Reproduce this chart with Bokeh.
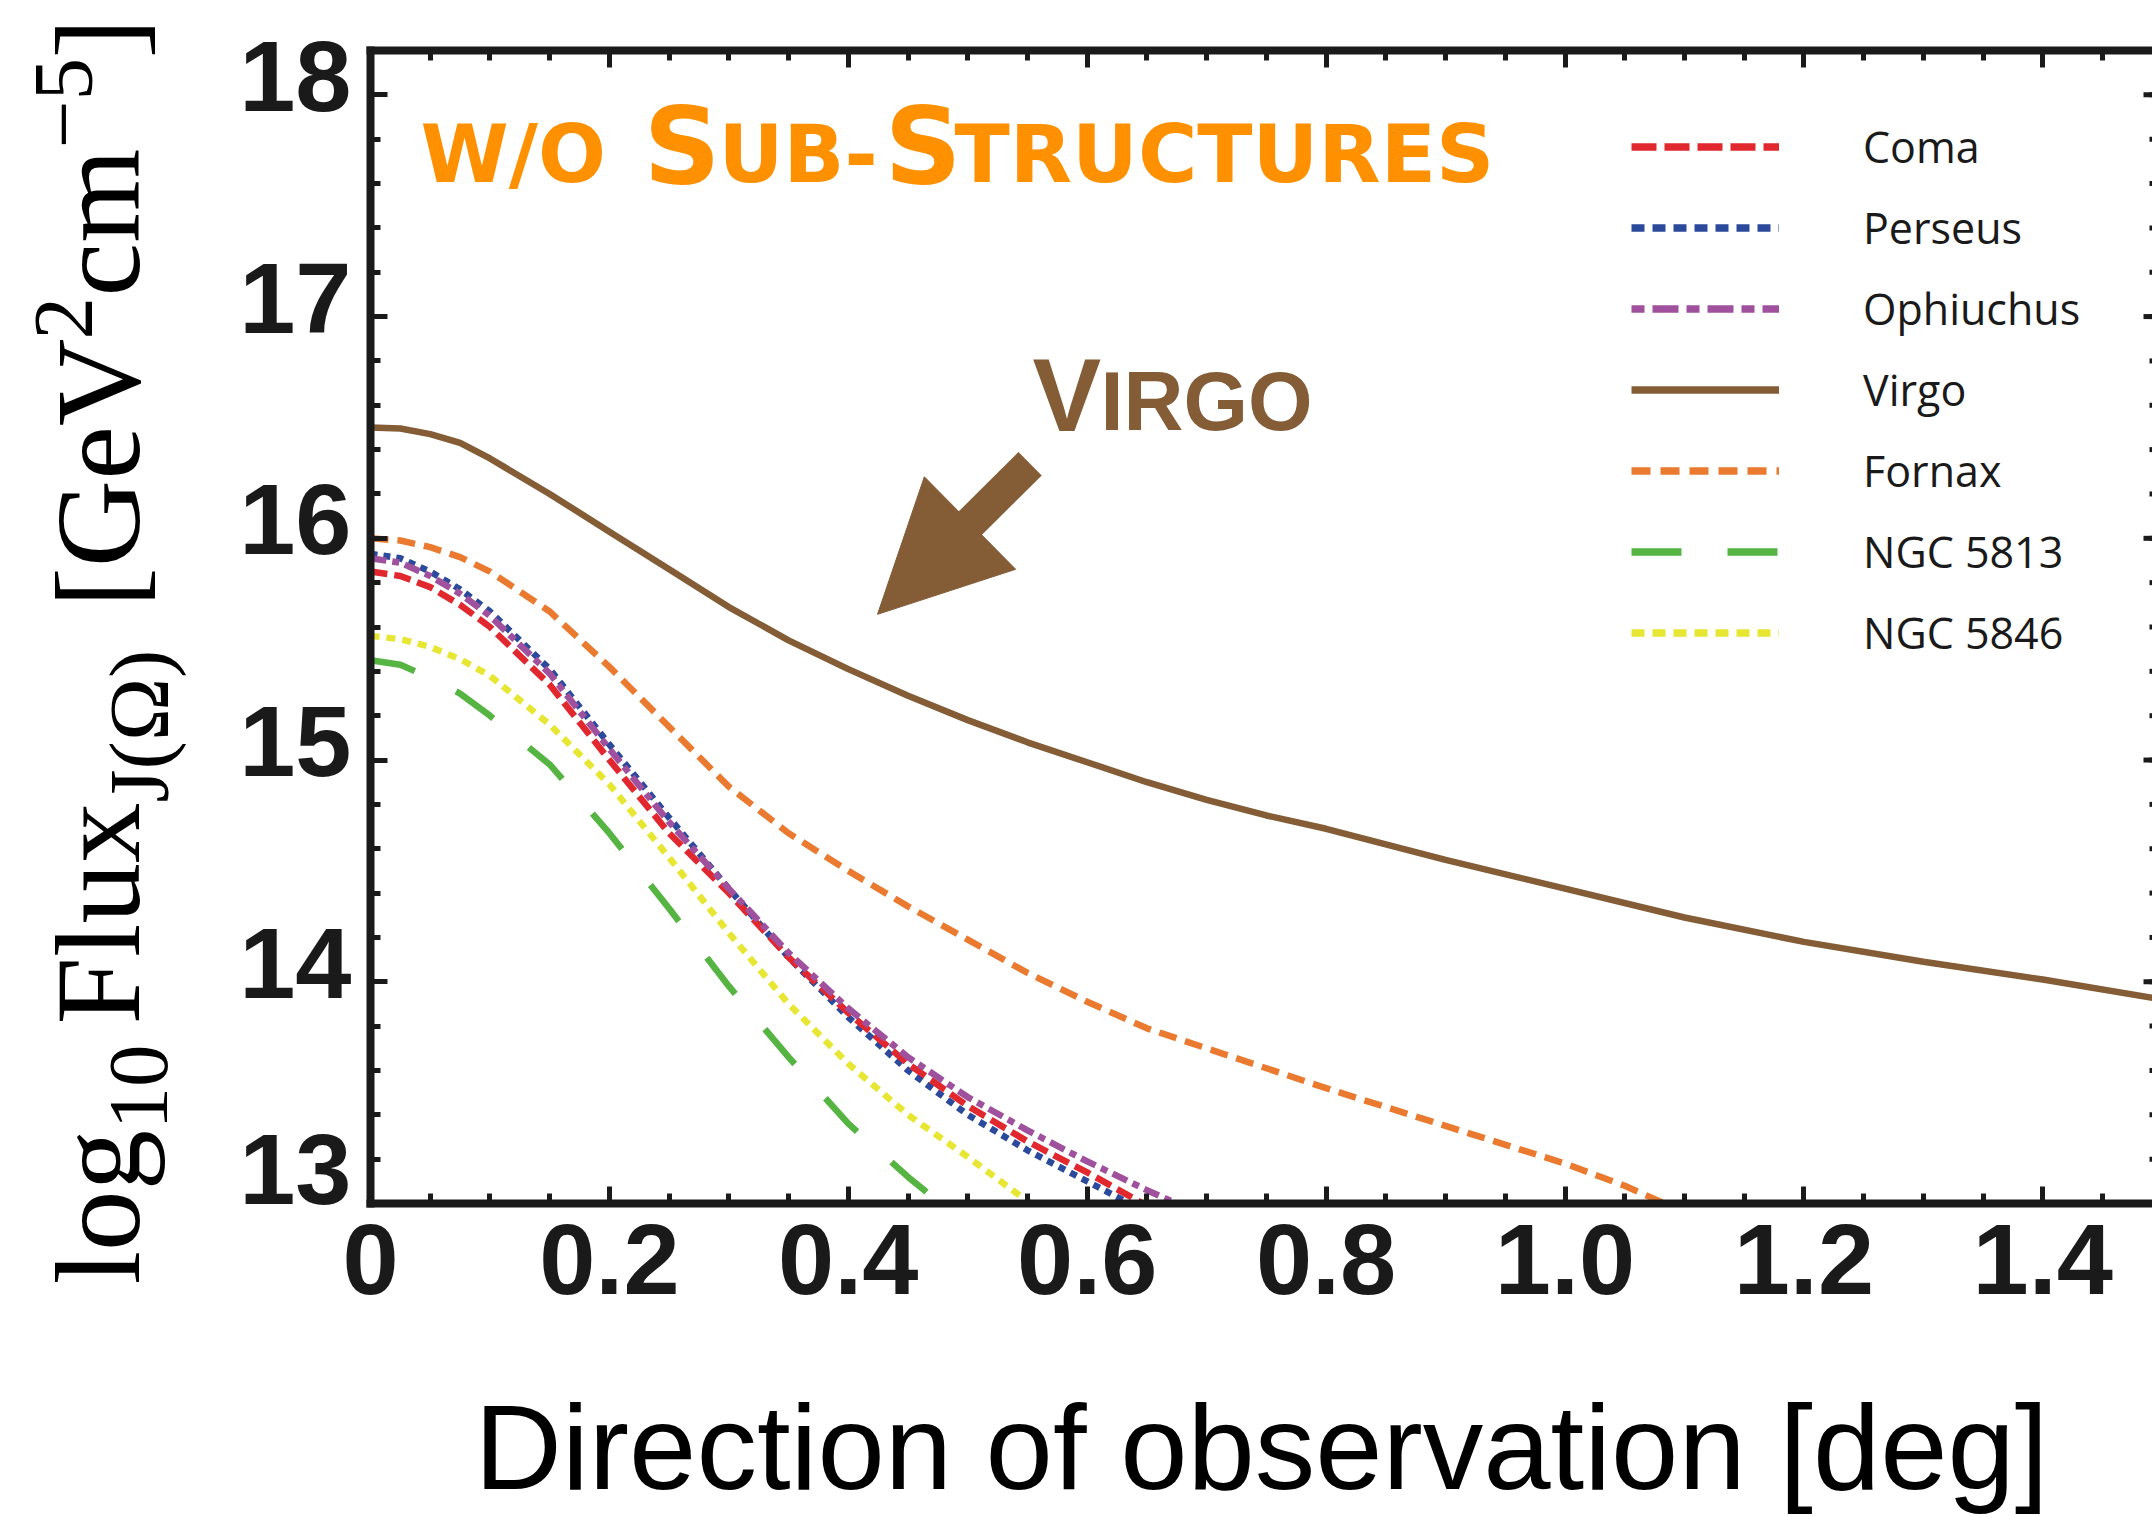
from math import pi
from bokeh.plotting import figure
from bokeh.layouts import row
from bokeh.models import (Range1d, LinearAxis, FixedTicker, Label, Arrow,
                          NormalHead, Legend, LegendItem)
from bokeh.embed import file_html
from bokeh.resources import INLINE

# ---------------- data ----------------
x_bundle = [0.00, 0.025, 0.05, 0.075, 0.10, 0.15, 0.20, 0.25, 0.30, 0.35, 0.40,
            0.45, 0.50, 0.55, 0.60, 0.65, 0.70]
coma = [15.85, 15.83, 15.78, 15.70, 15.60, 15.34, 15.00, 14.67, 14.40, 14.11,
        13.86, 13.63, 13.44, 13.28, 13.14, 12.99, 12.85]
perseus = [15.93, 15.91, 15.85, 15.77, 15.67, 15.41, 15.07, 14.74, 14.42, 14.11,
           13.84, 13.60, 13.40, 13.24, 13.10, 12.96, 12.82]
ophiuchus = [15.91, 15.89, 15.83, 15.75, 15.65, 15.39, 15.05, 14.72, 14.42, 14.13,
             13.88, 13.66, 13.48, 13.33, 13.19, 13.06, 12.94]

x_virgo = [0.00, 0.025, 0.05, 0.075, 0.10, 0.15, 0.20, 0.25, 0.30, 0.35, 0.40,
           0.45, 0.50, 0.55, 0.60, 0.65, 0.70, 0.75, 0.80, 0.90, 1.00, 1.10,
           1.20, 1.30, 1.40, 1.50]
virgo = [16.50, 16.495, 16.47, 16.43, 16.36, 16.20, 16.03, 15.86, 15.69, 15.54,
         15.41, 15.29, 15.18, 15.08, 14.99, 14.90, 14.82, 14.75, 14.69, 14.55,
         14.42, 14.29, 14.18, 14.09, 14.01, 13.92]

x_fornax = [0.00, 0.025, 0.05, 0.075, 0.10, 0.15, 0.20, 0.25, 0.30, 0.35, 0.40,
            0.45, 0.50, 0.55, 0.60, 0.65, 0.70, 0.75, 0.80, 0.90, 1.00, 1.05,
            1.10]
fornax = [16.00, 15.99, 15.96, 15.915, 15.85, 15.67, 15.42, 15.15, 14.88, 14.67,
          14.50, 14.34, 14.19, 14.04, 13.91, 13.79, 13.70, 13.61, 13.52, 13.35,
          13.18, 13.08, 12.96]

x_5813 = [0.00, 0.025, 0.05, 0.075, 0.10, 0.15, 0.20, 0.25, 0.30, 0.35, 0.40,
          0.45, 0.50]
ngc5813 = [15.45, 15.43, 15.37, 15.30, 15.20, 14.98, 14.67, 14.33, 13.98, 13.66,
           13.36, 13.12, 12.90]

x_5846 = [0.00, 0.025, 0.05, 0.075, 0.10, 0.15, 0.20, 0.25, 0.30, 0.35, 0.40,
          0.45, 0.50, 0.55, 0.60]
ngc5846 = [15.56, 15.545, 15.51, 15.455, 15.38, 15.16, 14.89, 14.56, 14.22, 13.90,
           13.63, 13.40, 13.21, 13.01, 12.84]

x_ticks = [0, 0.2, 0.4, 0.6, 0.8, 1.0, 1.2, 1.4]
x_tick_labels = ["0", "0.2", "0.4", "0.6", "0.8", "1.0", "1.2", "1.4"]
y_ticks = [13, 14, 15, 16, 17, 18]
y_tick_labels = ["13", "14", "15", "16", "17", "18"]

names = ["Coma", "Perseus", "Ophiuchus", "Virgo", "Fornax", "NGC 5813", "NGC 5846"]

# ---------------- styles / layout ----------------
INK = "#1a1a1a"
RED = "#E0282E"
BLUE = "#2B4A9B"
PURPLE = "#A0519E"
BROWN = "#845C36"
ORANGE = "#E97A2F"
GREEN = "#55B442"
YELLOW = "#E6E633"
TITLE_ORANGE = "#FF9000"

TOTAL_W, TOTAL_H = 2152, 1517
LAB_W = 208                 # width of the strip that carries the y-axis title
FRAME_L, FRAME_T, FRAME_B = 370, 50, 1208
FRAME_W = TOTAL_W - FRAME_L
FRAME_H = FRAME_B - FRAME_T
PX_PER_X = 1194.5
X_END = FRAME_W / PX_PER_X
Y_START, Y_END = 13.0, 18.2
PX_PER_Y = FRAME_H / (Y_END - Y_START)


def dx(X):
    return (X - FRAME_L) / PX_PER_X


def dy(Y):
    return Y_END - (Y - FRAME_T) / PX_PER_Y


MID = 0.33   # box-centre above the baseline, in em

p = figure(width=TOTAL_W - LAB_W, height=TOTAL_H, x_range=Range1d(0, X_END),
           y_range=Range1d(Y_START, Y_END), output_backend="svg",
           toolbar_location=None, min_border_left=FRAME_L - LAB_W,
           min_border_right=0, min_border_top=FRAME_T,
           min_border_bottom=TOTAL_H - FRAME_B)
p.frame_align = False
p.outline_line_color = None
p.grid.visible = False
p.background_fill_color = "white"
p.border_fill_color = "white"

x_minor = [round(0.05 * i, 2) for i in range(0, 31)]
y_minor = [round(13 + 0.2 * i, 1) for i in range(0, 27)]


def tick_style(ax, line=True):
    ax.axis_line_color = INK if line else None
    ax.axis_line_width = 8
    ax.axis_line_cap = "square"
    ax.major_tick_in = 17
    ax.major_tick_out = 0
    ax.minor_tick_in = 10
    ax.minor_tick_out = 0
    ax.major_tick_line_color = INK
    ax.minor_tick_line_color = INK
    ax.major_tick_line_width = 5
    ax.minor_tick_line_width = 5


def label_style(ax):
    ax.major_label_text_font = "Liberation Sans"
    ax.major_label_text_font_style = "bold"
    ax.major_label_text_font_size = "101px"
    ax.major_label_text_color = INK


def no_labels(ax, ticks):
    ax.major_label_text_font_size = "0px"
    ax.major_label_standoff = 0
    ax.major_label_overrides = {t: "" for t in ticks}


# bottom axis: ticks + labels + title
xb = p.xaxis[0]
xb.ticker = FixedTicker(ticks=x_ticks, minor_ticks=x_minor)
tick_style(xb)
label_style(xb)
xb.major_label_standoff = 20
xb.major_label_overrides = {t: s for t, s in zip(x_ticks, x_tick_labels)}
xb.axis_label = "Direction of observation [deg]"
xb.axis_label_text_font = "Liberation Sans"
xb.axis_label_text_font_style = "normal"
xb.axis_label_text_font_size = "121px"
xb.axis_label_text_color = "black"
xb.axis_label_standoff = 82

# left: inner axis with spine and ticks only
yl = p.yaxis[0]
yl.ticker = FixedTicker(ticks=y_ticks, minor_ticks=y_minor)
tick_style(yl)
no_labels(yl, y_ticks)

# left: outer axis carrying the tick labels (placed slightly above each tick,
# as in the picture)
label_shift = [35 / PX_PER_Y] + [19 / PX_PER_Y] * (len(y_ticks) - 1)
y_label_pos = [t + s for t, s in zip(y_ticks, label_shift)]
ylab = LinearAxis(ticker=FixedTicker(ticks=y_label_pos, minor_ticks=[]))
ylab.axis_line_color = None
ylab.major_tick_in = 0
ylab.major_tick_out = 0
ylab.minor_tick_in = 0
ylab.minor_tick_out = 0
label_style(ylab)
ylab.major_label_standoff = 19
ylab.major_label_overrides = {t: s for t, s in zip(y_label_pos, y_tick_labels)}
p.add_layout(ylab, "left")

# top spine with inward ticks
xt = LinearAxis(ticker=FixedTicker(ticks=x_ticks, minor_ticks=x_minor))
tick_style(xt)
no_labels(xt, x_ticks)
p.add_layout(xt, "above")

# right-edge tick stubs (the right spine lies just outside the picture)
p.segment(x0=[X_END] * len(y_ticks), y0=y_ticks,
          x1=[X_END - 9 / PX_PER_X] * len(y_ticks), y1=y_ticks,
          line_color=INK, line_width=5)
p.segment(x0=[X_END] * len(y_minor), y0=y_minor,
          x1=[X_END - 3 / PX_PER_X] * len(y_minor), y1=y_minor,
          line_color=INK, line_width=5)

# ---------------- curves ----------------
LW = 6.5
p.line(x_bundle, perseus, line_color=BLUE, line_width=LW, line_dash="7 6")
p.line(x_bundle, coma, line_color=RED, line_width=LW, line_dash="17 7")
p.line(x_bundle, ophiuchus, line_color=PURPLE, line_width=LW, line_dash="16 6 7 6")
p.line(x_virgo, virgo, line_color=BROWN, line_width=6.5)
p.line(x_fornax, fornax, line_color=ORANGE, line_width=LW, line_dash="18 9")
p.line(x_5813, ngc5813, line_color=GREEN, line_width=LW, line_dash="46 46")
p.line(x_5846, ngc5846, line_color=YELLOW, line_width=LW, line_dash="9 7")

# ---------------- legend (own samples, as in the picture) ----------------
nan = float("nan")
leg_styles = [(RED, "25 8"), (BLUE, "13 8"), (PURPLE, "13 8 26 8"),
              (BROWN, "solid"), (ORANGE, "19 10"), (GREEN, "50 46"),
              (YELLOW, "13 8")]
items = []
for name, (c, d) in zip(names, leg_styles):
    r = p.line(x=[nan], y=[nan], line_color=c, line_width=7.6, line_dash=d)
    items.append(LegendItem(label=name, renderers=[r]))
legend = Legend(items=items, location=(1261, 530), orientation="vertical",
                glyph_width=148, glyph_height=81, label_height=81,
                label_standoff=84, spacing=0, padding=0, margin=0,
                border_line_alpha=0, background_fill_alpha=0,
                label_text_font="Open Sans", label_text_font_size="43px",
                label_text_color=INK, label_text_baseline="middle")
p.add_layout(legend)

# ---------------- title  w/o SUB-STRUCTURES ----------------
TITLE_BASE = 181
title_runs = [("W/O", 80, 420), ("S", 107, 643), ("UB-", 80, 718),
              ("S", 107, 884), ("TRUCTURES", 81, 954)]
for t, fs, X in title_runs:
    p.add_layout(Label(x=dx(X), y=dy(TITLE_BASE - MID * fs), text=t,
                       text_align="left", text_baseline="middle",
                       text_font="DejaVu Sans", text_font_style="bold",
                       text_font_size=f"{fs}px", text_color=TITLE_ORANGE))

# ---------------- VIRGO annotation + arrow ----------------
VIRGO_BASE = 430
for t, fs, X in [("V", 103, 1032), ("IRGO", 83, 1100)]:
    p.add_layout(Label(x=dx(X), y=dy(VIRGO_BASE - MID * fs), text=t,
                       text_align="left", text_baseline="middle",
                       text_font="Liberation Sans", text_font_style="bold",
                       text_font_size=f"{fs}px", text_color=BROWN))

TAIL = (1029.6, 465.0)
TIP = (877.0, 616.3)
SHAFT_END = (956.0, 538.5)
p.add_layout(Arrow(end=None, x_start=dx(TAIL[0]), y_start=dy(TAIL[1]),
                   x_end=dx(SHAFT_END[0]), y_end=dy(SHAFT_END[1]),
                   line_color=BROWN, line_width=33, line_cap="butt"))
p.add_layout(Arrow(end=NormalHead(size=130, fill_color=BROWN, line_color=BROWN,
                                  line_width=1),
                   x_start=dx(TAIL[0]), y_start=dy(TAIL[1]),
                   x_end=dx(TIP[0]), y_end=dy(TIP[1]),
                   line_color=BROWN, line_alpha=0, line_width=1))

# ---------------- y-axis title strip (rotated, with sub/superscripts) -------
q = figure(width=LAB_W, height=TOTAL_H, x_range=Range1d(0, LAB_W),
           y_range=Range1d(TOTAL_H, 0), output_backend="svg",
           toolbar_location=None, x_axis_type=None, y_axis_type=None,
           min_border=0)
q.frame_align = False
q.outline_line_color = None
q.grid.visible = False
q.background_fill_color = "white"
q.border_fill_color = "white"

# (text, font size, baseline x, start y) in picture pixels
ylab_runs = [("log", 121, 137, 1284), ("10", 85, 167, 1129),
             ("Flux", 121, 137, 1024), ("J(Ω)", 85, 167, 802),
             ("[GeV", 121, 137, 607), ("2", 85, 92, 339),
             ("cm", 121, 137, 296), ("\u22125", 85, 92, 148),
             ("]", 121, 137, 58)]
for t, fs, X, Y in ylab_runs:
    q.add_layout(Label(x=X - MID * fs, y=Y, text=t, angle=pi / 2,
                       text_align="left", text_baseline="middle",
                       text_font="Liberation Serif", text_font_size=f"{fs}px",
                       text_color="black"))

layout = row(q, p)
open("out.html", "w").write(file_html(layout, INLINE))
